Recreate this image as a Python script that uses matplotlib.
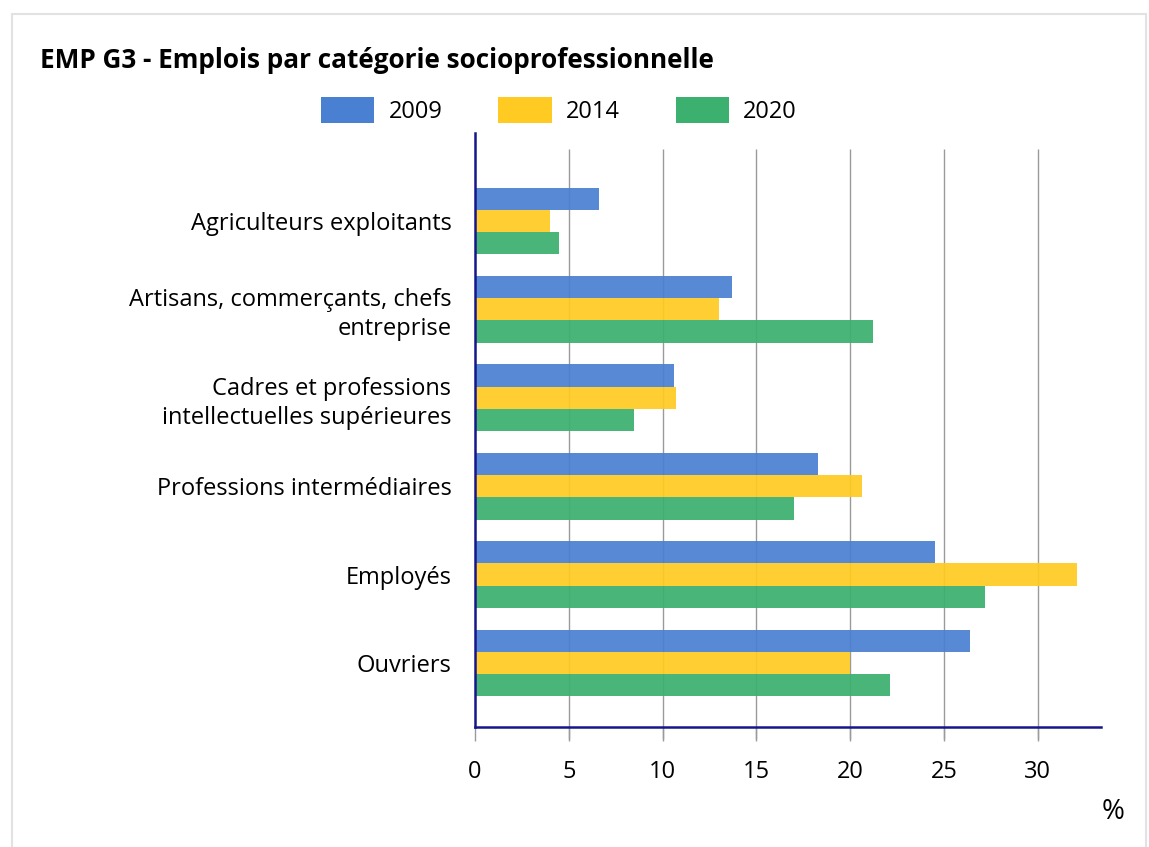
import matplotlib
matplotlib.use('Agg')
import matplotlib.pyplot as plt
import numpy as np
from matplotlib.patches import Patch, Rectangle

plt.rcParams['font.family'] = ['Open Sans', 'DejaVu Sans']

categories = ['Agriculteurs exploitants',
              'Artisans, commerçants, chefs\nentreprise',
              'Cadres et professions\nintellectuelles supérieures',
              'Professions intermédiaires',
              'Employés',
              'Ouvriers']
years = ['2009', '2014', '2020']
v2009 = [6.6, 13.7, 10.6, 18.3, 24.5, 26.4]
v2014 = [4.0, 13.0, 10.7, 20.6, 32.1, 20.0]
v2020 = [4.5, 21.2, 8.45, 17.0, 27.2, 22.1]
xticks = [0, 5, 10, 15, 20, 25, 30]

colors = ['#4a80d1', '#ffcb22', '#3cb06e']
navy = '#16168a'
fs = 17

fig = plt.figure(figsize=(11.49, 8.47), dpi=100)
ax = fig.add_axes([0.4134, 0.1417, 0.5448, 0.7013])

# light frame around the figure
fig.patches.append(Rectangle((0.0105, -0.01), 0.987, 0.993, transform=fig.transFigure,
                             fill=False, edgecolor='#e2e2e2', lw=1.5))

y = np.arange(len(categories))
h = 0.252
for i, (vals, c) in enumerate(zip([v2009, v2014, v2020], colors)):
    ax.barh(y + (i - 1) * h, vals, height=h, color=c, alpha=0.93, zorder=2)

ax.set_xlim(0, 33.36)
ax.set_ylim(5.724, -0.995)

# vertical grid lines, starting a bit below the top of the axis
ax.vlines(xticks[1:], -0.02, 0.973, transform=ax.get_xaxis_transform(),
          colors='#9a9a9a', lw=1, zorder=1, clip_on=False)

for s in ['top', 'right']:
    ax.spines[s].set_visible(False)
for s in ['left', 'bottom']:
    ax.spines[s].set_color(navy)
    ax.spines[s].set_linewidth(1.8)
    ax.spines[s].set_zorder(3)

ax.set_xticks(xticks)
ax.set_xticklabels([str(t) for t in xticks], fontsize=fs)
ax.tick_params(axis='x', length=10, color='#9a9a9a', width=1, pad=14)
ax.set_yticks(y)
ax.set_yticklabels(categories, fontsize=fs, linespacing=1.28)
ax.tick_params(axis='y', length=0, pad=17)

fig.text(0.035, 0.929, 'EMP G3 - Emplois par catégorie socioprofessionnelle',
         fontsize=18.8, fontweight='bold', va='center', ha='left')

handles = [Patch(facecolor=c, edgecolor='none') for c in colors]
fig.legend(handles, years, loc='center', bbox_to_anchor=(0.4865, 0.870), ncol=3,
           frameon=False, fontsize=fs, handlelength=2.25, handleheight=1.36,
           handletextpad=0.6, columnspacing=2.37)

fig.text(0.969, 0.041, '%', fontsize=20, ha='center', va='center')

fig.savefig('out.png', dpi=100)
